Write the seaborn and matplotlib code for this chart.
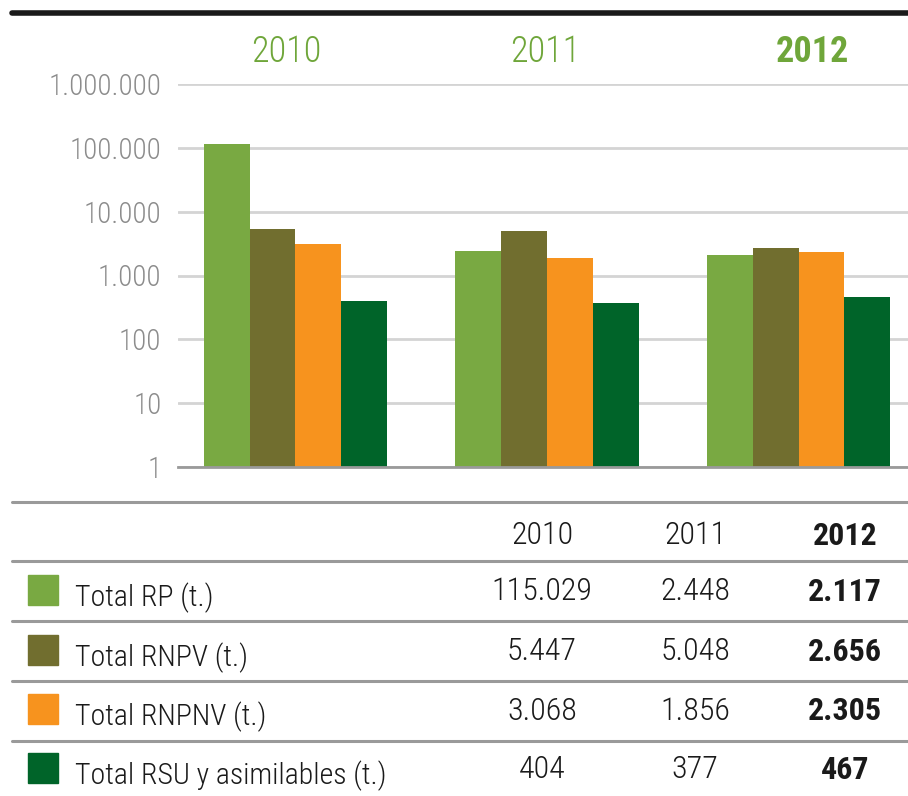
import matplotlib
matplotlib.use("Agg")
import matplotlib.pyplot as plt
import seaborn as sns
import pandas as pd
from matplotlib.lines import Line2D
from matplotlib.patches import Rectangle
from matplotlib import font_manager

years = ["2010", "2011", "2012"]
series = ["Total RP (t.)", "Total RNPV (t.)", "Total RNPNV (t.)", "Total RSU y asimilables (t.)"]
rp = [115029, 2448, 2117]
rnpv = [5447, 5048, 2656]
rnpnv = [3068, 1856, 2305]
rsu = [404, 377, 467]
table_text = [["115.029", "2.448", "2.117"],
              ["5.447", "5.048", "2.656"],
              ["3.068", "1.856", "2.305"],
              ["404", "377", "467"]]
ytick_vals = [1, 10, 100, 1000, 10000, 100000, 1000000]
ytick_labels = ["1", "10", "100", "1.000", "10.000", "100.000", "1.000.000"]
colors = ["#79a942", "#716e2f", "#f7931e", "#006429"]

sns.set_theme(style="white")
names = sorted({f.name for f in font_manager.fontManager.ttflist})
cands = ["Liberation Sans Narrow", "Roboto Condensed", "DejaVu Sans Condensed", "Open Sans Condensed"]
avail = [c for c in cands if c in names]
FONT = avail + ["DejaVu Sans"]
plt.rcParams["font.family"] = FONT
plt.rcParams["font.stretch"] = "condensed"

rows = []
for s, vals in zip(series, [rp, rnpv, rnpnv, rsu]):
    for y, v in zip(years, vals):
        rows.append({"year": y, "serie": s, "value": v})
df = pd.DataFrame(rows)

W, H = 908, 796
fig = plt.figure(figsize=(W / 100, H / 100), dpi=100)

def fx(x):
    return x / W

def fy(y):
    return 1 - y / H

ax = fig.add_axes([fx(178), fy(467), fx(908) - fx(178), fy(84) - fy(467)])
sns.barplot(data=df, x="year", y="value", hue="serie", order=years, hue_order=series,
            palette=colors, width=0.73, linewidth=0, saturation=1, ax=ax, legend=False)
ax.set_yscale("log")
ax.set_ylim(1, 1e6)
ax.set_xlim(-0.467, 2.435)
ax.set_yticks(ytick_vals)
ax.set_yticklabels(ytick_labels)
ax.minorticks_off()
ax.tick_params(axis="y", length=0, pad=12, labelsize=21, labelcolor="#8c8c8c")
for t in ax.get_yticklabels():
    t.set_fontweight("light")
ax.set_xticks([])
ax.set_xlabel("")
ax.set_ylabel("")
for sp in ["top", "right", "left"]:
    ax.spines[sp].set_visible(False)
ax.spines["bottom"].set_color("#9a9a9a")
ax.spines["bottom"].set_linewidth(2)
ax.yaxis.grid(True, color="#d4d4d4", linewidth=2)
ax.set_axisbelow(True)

for i, (y, xc) in enumerate(zip(years, [286, 545, 812])):
    fig.text(fx(xc), fy(52), y, ha="center", va="center", fontsize=26,
             color="#6fa63a", fontweight="bold" if i == 2 else "light")

fig.add_artist(Line2D([fx(12), 1], [fy(13), fy(13)], color="#1a1a1a", linewidth=4))

line_ys = [502, 561, 621, 681, 741]
for ly in line_ys:
    fig.add_artist(Line2D([fx(12), 1], [fy(ly), fy(ly)], color="#9a9a9a", linewidth=2.2))

col_x = [542, 695, 845]
for i, (y, xc) in enumerate(zip(years, col_x)):
    fig.text(fx(xc), fy(536), y, ha="center", va="center", fontsize=23,
             color="#1a1a1a", fontweight="bold" if i == 2 else "light")

row_y = [595, 655, 714, 773]
for r, (lab, ry) in enumerate(zip(series, row_y)):
    fig.add_artist(Rectangle((fx(28), fy(ry + 10)), fx(30), fy(0) - fy(30),
                             color=colors[r], transform=fig.transFigure))
    fig.text(fx(75), fy(ry + 3), lab, ha="left", va="center", fontsize=21.5, color="#1a1a1a",
             fontweight="light")
    for c, xc in enumerate(col_x):
        fig.text(fx(xc), fy(ry - 3), table_text[r][c], ha="center", va="center", fontsize=23,
                 color="#1a1a1a", fontweight="bold" if c == 2 else "light")

fig.savefig("out.png", dpi=100)
